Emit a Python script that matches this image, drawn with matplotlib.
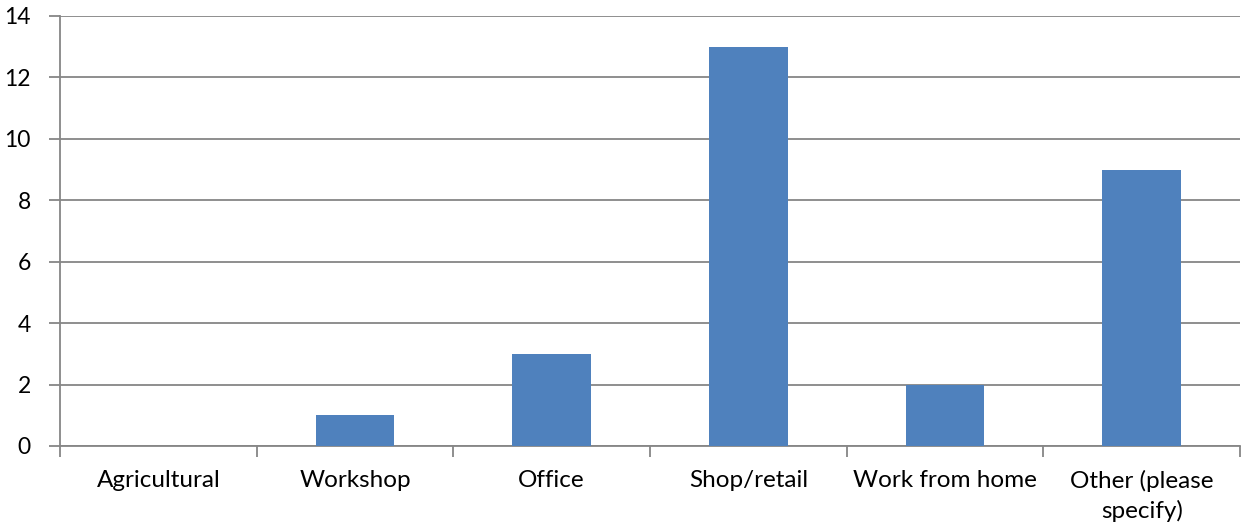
import matplotlib
matplotlib.use("Agg")
import matplotlib.pyplot as plt
import numpy as np

categories = ["Agricultural", "Workshop", "Office", "Shop/retail", "Work from home", "Other (please\nspecify)"]
values = [0, 1, 3, 13, 2, 9]
yticks = [0, 2, 4, 6, 8, 10, 12, 14]

plt.rcParams['font.family'] = ['Lato', 'DejaVu Sans']

fig = plt.figure(figsize=(12.44, 5.29), dpi=100)
ax = fig.add_axes([60/1244, 83/529, 1180/1244, 430/529])

x = np.arange(len(categories))
ax.bar(x, values, width=0.4, color="#4F81BD", zorder=3)

ax.set_xlim(-0.5, len(categories) - 0.5)
ax.set_ylim(0, 14)
ax.set_yticks(yticks)
ax.yaxis.grid(True, color="#868686", linewidth=1.3, zorder=0)
ax.set_axisbelow(True)

for s in ["top", "right"]:
    ax.spines[s].set_visible(False)
for s in ["left", "bottom"]:
    ax.spines[s].set_color("#868686")
    ax.spines[s].set_linewidth(1.3)

ax.set_xticks(x)
ax.set_xticklabels(categories, fontsize=17.5, linespacing=1.45)
ax.tick_params(axis="x", length=0, pad=17)
ax.set_xticks(np.arange(len(categories) + 1) - 0.5, minor=True)
ax.tick_params(axis="x", which="minor", length=8, color="#868686", width=1.3)
ax.tick_params(axis="y", length=8, color="#868686", width=1.3, labelsize=16.5, pad=13)

fig.savefig("out.png", dpi=100)
